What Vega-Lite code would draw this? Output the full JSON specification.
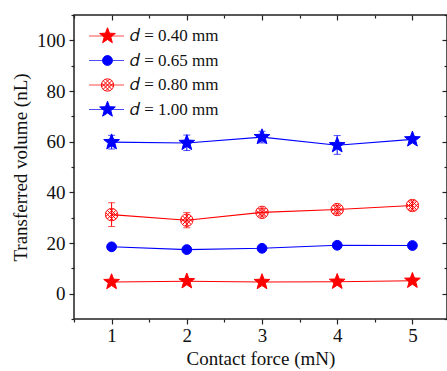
{
  "$schema": "https://vega.github.io/schema/vega-lite/v6.json",
  "width": 373,
  "height": 304,
  "autosize": {"type": "none"},
  "padding": {"left": 74, "top": 15, "right": 0, "bottom": 52},
  "background": "white",
  "config": {
    "view": {"stroke": "#222", "strokeWidth": 1.5},
    "axis": {
      "labelFont": "Liberation Serif", "labelFontSize": 19, "labelColor": "#111",
      "titleFont": "Liberation Serif", "titleFontSize": 19, "titleFontWeight": "normal", "titleColor": "#111",
      "tickColor": "#222", "tickWidth": 1.2, "domain": false, "grid": false
    },
    "legend": {
      "labelFont": "Liberation Serif", "labelFontSize": 17, "labelColor": "#111", "padding": 0
    }
  },
  "data": {
    "values": [
      {"force": 1, "d": "𝑑 = 0.40 mm", "v": 4.6, "lo": 4.3, "hi": 4.9},
      {"force": 2, "d": "𝑑 = 0.40 mm", "v": 4.9, "lo": 4.6, "hi": 5.2},
      {"force": 3, "d": "𝑑 = 0.40 mm", "v": 4.6, "lo": 4.3, "hi": 4.9},
      {"force": 4, "d": "𝑑 = 0.40 mm", "v": 4.7, "lo": 4.4, "hi": 5.0},
      {"force": 5, "d": "𝑑 = 0.40 mm", "v": 5.1, "lo": 4.8, "hi": 5.4},
      {"force": 1, "d": "𝑑 = 0.65 mm", "v": 18.5, "lo": 18.0, "hi": 19.0},
      {"force": 2, "d": "𝑑 = 0.65 mm", "v": 17.4, "lo": 16.9, "hi": 17.9},
      {"force": 3, "d": "𝑑 = 0.65 mm", "v": 17.9, "lo": 17.4, "hi": 18.4},
      {"force": 4, "d": "𝑑 = 0.65 mm", "v": 19.1, "lo": 18.6, "hi": 19.6},
      {"force": 5, "d": "𝑑 = 0.65 mm", "v": 19.0, "lo": 18.5, "hi": 19.5},
      {"force": 1, "d": "𝑑 = 0.80 mm", "v": 31.2, "lo": 26.5, "hi": 35.9},
      {"force": 2, "d": "𝑑 = 0.80 mm", "v": 29.0, "lo": 26.0, "hi": 32.0},
      {"force": 3, "d": "𝑑 = 0.80 mm", "v": 32.1, "lo": 30.6, "hi": 33.6},
      {"force": 4, "d": "𝑑 = 0.80 mm", "v": 33.2, "lo": 31.6, "hi": 34.8},
      {"force": 5, "d": "𝑑 = 0.80 mm", "v": 34.8, "lo": 33.0, "hi": 36.6},
      {"force": 1, "d": "𝑑 = 1.00 mm", "v": 59.8, "lo": 57.1, "hi": 62.5},
      {"force": 2, "d": "𝑑 = 1.00 mm", "v": 59.5, "lo": 56.5, "hi": 62.6},
      {"force": 3, "d": "𝑑 = 1.00 mm", "v": 61.8, "lo": 59.5, "hi": 64.1},
      {"force": 4, "d": "𝑑 = 1.00 mm", "v": 58.6, "lo": 55.0, "hi": 62.4},
      {"force": 5, "d": "𝑑 = 1.00 mm", "v": 60.9, "lo": 59.9, "hi": 61.9}
    ]
  },
  "resolve": {"axis": {"x": "independent", "y": "independent"}},
  "layer": [
    {
      "mark": {"type": "rule", "strokeWidth": 1},
      "encoding": {
        "x": {"field": "force", "type": "quantitative", "scale": {"domain": [0.5, 5.46], "nice": false, "zero": false},
          "axis": {"orient": "bottom", "values": [1, 2, 3, 4, 5], "tickSize": 5, "labelPadding": 2, "title": "Contact force (mN)", "titleY": 45, "titleBaseline": "alphabetic"}},
        "y": {"field": "lo", "type": "quantitative", "scale": {"domain": [-10, 110], "nice": false, "zero": false},
          "axis": {"orient": "left", "values": [0, 20, 40, 60, 80, 100], "tickSize": 5, "labelPadding": 4, "title": "Transferred volume (nL)", "titleX": -54, "titleY": 152, "titleBaseline": "middle", "titleAngle": -90}},
        "y2": {"field": "hi"},
        "color": {"field": "d", "type": "nominal", "scale": {"domain": ["𝑑 = 0.40 mm", "𝑑 = 0.65 mm", "𝑑 = 0.80 mm", "𝑑 = 1.00 mm"], "range": ["#ff0000", "#0000ff", "#ff0000", "#0000ff"]},
          "legend": {"orient": "none", "legendX": 14, "legendY": 12, "title": null, "symbolType": "stroke", "symbolSize": 1225, "symbolStrokeWidth": 1.1, "labelExpr": "''", "clipHeight": 18, "rowPadding": 6.5}}
      }
    },
    {
      "mark": {"type": "tick", "orient": "horizontal", "size": 7, "thickness": 1},
      "encoding": {
        "x": {"field": "force", "type": "quantitative",
          "axis": {"orient": "bottom", "values": [0.5, 1.5, 2.5, 3.5, 4.5], "tickSize": 3, "labels": false, "title": null}},
        "y": {"field": "hi", "type": "quantitative",
          "axis": {"orient": "left", "values": [-10, 10, 30, 50, 70, 90, 110], "tickSize": 3, "labels": false, "title": null}},
        "color": {"field": "d", "type": "nominal"}
      }
    },
    {
      "mark": {"type": "tick", "orient": "horizontal", "size": 7, "thickness": 1},
      "encoding": {
        "x": {"field": "force", "type": "quantitative",
          "axis": {"orient": "top", "values": [1, 2, 3, 4, 5], "tickSize": -5, "labels": false, "title": null}},
        "y": {"field": "lo", "type": "quantitative",
          "axis": {"orient": "right", "values": [0, 20, 40, 60, 80, 100], "tickSize": -5, "labels": false, "title": null}},
        "color": {"field": "d", "type": "nominal"}
      }
    },
    {
      "mark": {"type": "line", "strokeWidth": 1.1},
      "encoding": {
        "x": {"field": "force", "type": "quantitative",
          "axis": {"orient": "top", "values": [0.5, 1.5, 2.5, 3.5, 4.5], "tickSize": -3, "labels": false, "title": null}},
        "y": {"field": "v", "type": "quantitative",
          "axis": {"orient": "right", "values": [-10, 10, 30, 50, 70, 90, 110], "tickSize": -3, "labels": false, "title": null}},
        "color": {"field": "d", "type": "nominal"}
      }
    },
    {
      "mark": {"type": "point", "strokeWidth": 1, "opacity": 1},
      "encoding": {
        "x": {"field": "force", "type": "quantitative", "axis": null},
        "y": {"field": "v", "type": "quantitative", "axis": null},
        "stroke": {"field": "d", "type": "nominal", "scale": {"range": ["#ff0000", "#0000ff", "#ff0000", "#0000ff"]},
          "legend": {"orient": "none", "legendX": 25, "legendY": 12, "title": null, "symbolSize": 150, "symbolStrokeWidth": 1, "labelOffset": 14, "clipHeight": 18, "rowPadding": 6.5}},
        "fill": {"field": "d", "type": "nominal", "scale": {"range": ["#ff0000", "#0000ff", "transparent", "#0000ff"]},
          "legend": {"orient": "none", "legendX": 25, "legendY": 12, "title": null, "symbolSize": 150, "symbolStrokeWidth": 1, "labelOffset": 14, "clipHeight": 18, "rowPadding": 6.5}},
        "shape": {"field": "d", "type": "nominal", "scale": {"range": [
          "M0,-1.35L0.333,-0.459L1.284,-0.417L0.539,0.176L0.794,1.092L0,0.567L-0.794,1.092L-0.539,0.176L-1.284,-0.417L-0.333,-0.459Z",
          "M0.8,0A0.8,0.8 0 1,1 -0.8,0A0.8,0.8 0 1,1 0.8,0Z",
          "M1,0A1,1 0 1,1 -1,0A1,1 0 1,1 1,0ZM-0.707,-0.707L0.707,0.707M-0.707,0.707L0.707,-0.707M-0.949,-0.313L0.313,0.949M-0.313,-0.949L0.949,0.313M-0.313,0.949L0.949,-0.313M-0.949,0.313L0.313,-0.949",
          "M0,-1.35L0.333,-0.459L1.284,-0.417L0.539,0.176L0.794,1.092L0,0.567L-0.794,1.092L-0.539,0.176L-1.284,-0.417L-0.333,-0.459Z"
        ]}, "legend": {"orient": "none", "legendX": 25, "legendY": 12, "title": null, "symbolSize": 150, "symbolStrokeWidth": 1, "labelOffset": 14, "clipHeight": 18, "rowPadding": 6.5}},
        "size": {"value": 150}
      }
    }
  ]
}
